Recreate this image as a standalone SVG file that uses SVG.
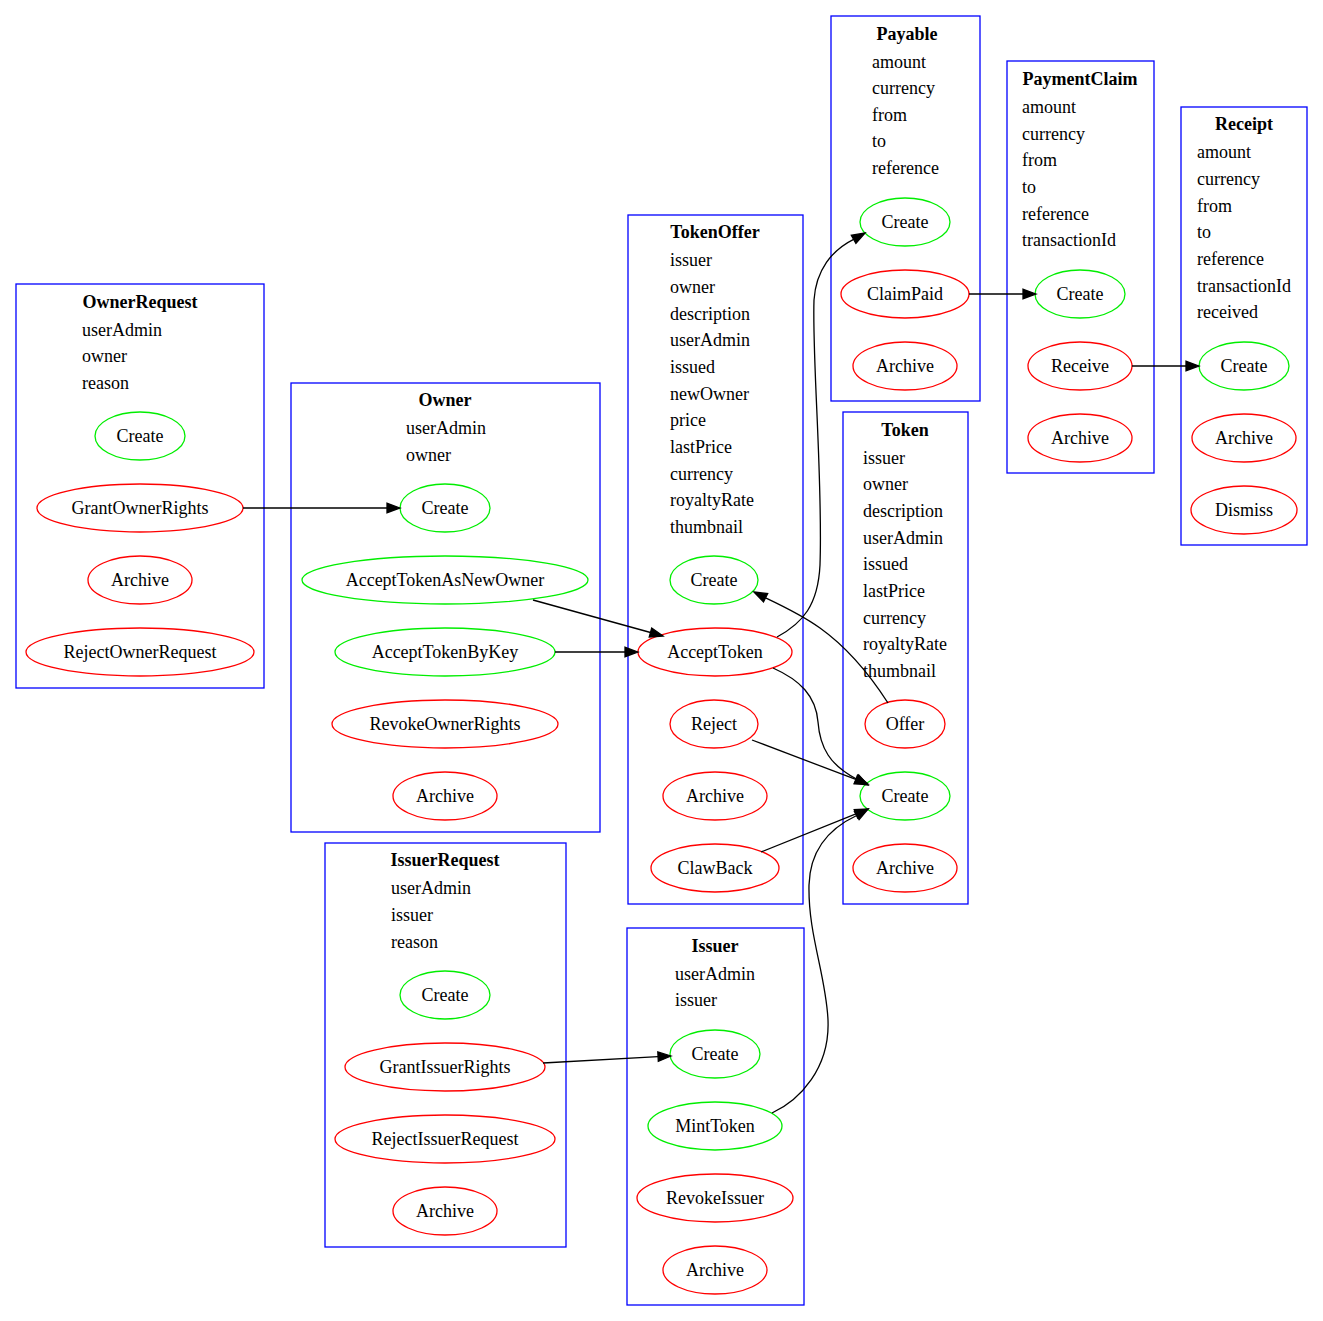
<svg xmlns="http://www.w3.org/2000/svg" width="1323" height="1321" viewBox="0 0 1323 1321">
<style>
  text { font-family: "Liberation Serif", "Times New Roman", serif; font-size: 18px; fill: #000; }
  .title { font-weight: bold; text-anchor: middle; }
  .field { text-anchor: start; }
  .lbl { text-anchor: middle; }
  .box { fill: none; stroke: #0000ff; stroke-width: 1.3; }
  .ok { fill: none; stroke: #00ee00; stroke-width: 1.3; }
  .bad { fill: none; stroke: #ff0000; stroke-width: 1.3; }
  .edge path { fill: none; stroke: #000; stroke-width: 1.3; }
  .edge polygon { fill: #000; stroke: #000; stroke-width: 1.3; }
</style>
<rect width="1323" height="1321" fill="#fff"/>

<!-- OwnerRequest -->
<g id="OwnerRequest">
  <rect class="box" x="16" y="284" width="248" height="404"/>
  <text class="title" x="140" y="308">OwnerRequest</text>
  <text class="field" x="82" y="336">userAdmin</text>
  <text class="field" x="82" y="362">owner</text>
  <text class="field" x="82" y="389">reason</text>
  <g id="OwnerRequest_Create"><ellipse class="ok" cx="140" cy="436" rx="45" ry="24"/><text class="lbl" x="140" y="442">Create</text></g>
  <g id="OwnerRequest_GrantOwnerRights"><ellipse class="bad" cx="140" cy="508" rx="103" ry="24"/><text class="lbl" x="140" y="514">GrantOwnerRights</text></g>
  <g id="OwnerRequest_Archive"><ellipse class="bad" cx="140" cy="580" rx="52" ry="24"/><text class="lbl" x="140" y="586">Archive</text></g>
  <g id="OwnerRequest_RejectOwnerRequest"><ellipse class="bad" cx="140" cy="652" rx="114" ry="24"/><text class="lbl" x="140" y="658">RejectOwnerRequest</text></g>
</g>

<!-- Owner -->
<g id="Owner">
  <rect class="box" x="291" y="383" width="309" height="449"/>
  <text class="title" x="445" y="406">Owner</text>
  <text class="field" x="406" y="434">userAdmin</text>
  <text class="field" x="406" y="461">owner</text>
  <g id="Owner_Create"><ellipse class="ok" cx="445" cy="508" rx="45" ry="24"/><text class="lbl" x="445" y="514">Create</text></g>
  <g id="Owner_AcceptTokenAsNewOwner"><ellipse class="ok" cx="445" cy="580" rx="143" ry="24"/><text class="lbl" x="445" y="586">AcceptTokenAsNewOwner</text></g>
  <g id="Owner_AcceptTokenByKey"><ellipse class="ok" cx="445" cy="652" rx="110" ry="24"/><text class="lbl" x="445" y="658">AcceptTokenByKey</text></g>
  <g id="Owner_RevokeOwnerRights"><ellipse class="bad" cx="445" cy="724" rx="113" ry="24"/><text class="lbl" x="445" y="730">RevokeOwnerRights</text></g>
  <g id="Owner_Archive"><ellipse class="bad" cx="445" cy="796" rx="52" ry="24"/><text class="lbl" x="445" y="802">Archive</text></g>
</g>

<!-- IssuerRequest -->
<g id="IssuerRequest">
  <rect class="box" x="325" y="843" width="241" height="404"/>
  <text class="title" x="445" y="866">IssuerRequest</text>
  <text class="field" x="391" y="894">userAdmin</text>
  <text class="field" x="391" y="921">issuer</text>
  <text class="field" x="391" y="948">reason</text>
  <g id="IssuerRequest_Create"><ellipse class="ok" cx="445" cy="995" rx="45" ry="24"/><text class="lbl" x="445" y="1001">Create</text></g>
  <g id="IssuerRequest_GrantIssuerRights"><ellipse class="bad" cx="445" cy="1067" rx="100" ry="24"/><text class="lbl" x="445" y="1073">GrantIssuerRights</text></g>
  <g id="IssuerRequest_RejectIssuerRequest"><ellipse class="bad" cx="445" cy="1139" rx="110" ry="24"/><text class="lbl" x="445" y="1145">RejectIssuerRequest</text></g>
  <g id="IssuerRequest_Archive"><ellipse class="bad" cx="445" cy="1211" rx="52" ry="24"/><text class="lbl" x="445" y="1217">Archive</text></g>
</g>

<!-- TokenOffer -->
<g id="TokenOffer">
  <rect class="box" x="628" y="215" width="175" height="689"/>
  <text class="title" x="715" y="238">TokenOffer</text>
  <text class="field" x="670" y="266">issuer</text>
  <text class="field" x="670" y="293">owner</text>
  <text class="field" x="670" y="320">description</text>
  <text class="field" x="670" y="346">userAdmin</text>
  <text class="field" x="670" y="373">issued</text>
  <text class="field" x="670" y="400">newOwner</text>
  <text class="field" x="670" y="426">price</text>
  <text class="field" x="670" y="453">lastPrice</text>
  <text class="field" x="670" y="480">currency</text>
  <text class="field" x="670" y="506">royaltyRate</text>
  <text class="field" x="670" y="533">thumbnail</text>
  <g id="TokenOffer_Create"><ellipse class="ok" cx="714" cy="580" rx="44" ry="24"/><text class="lbl" x="714" y="586">Create</text></g>
  <g id="TokenOffer_AcceptToken"><ellipse class="bad" cx="715" cy="652" rx="77" ry="24"/><text class="lbl" x="715" y="658">AcceptToken</text></g>
  <g id="TokenOffer_Reject"><ellipse class="bad" cx="714" cy="724" rx="44" ry="24"/><text class="lbl" x="714" y="730">Reject</text></g>
  <g id="TokenOffer_Archive"><ellipse class="bad" cx="715" cy="796" rx="52" ry="24"/><text class="lbl" x="715" y="802">Archive</text></g>
  <g id="TokenOffer_ClawBack"><ellipse class="bad" cx="715" cy="868" rx="64" ry="24"/><text class="lbl" x="715" y="874">ClawBack</text></g>
</g>

<!-- Issuer -->
<g id="Issuer">
  <rect class="box" x="627" y="928" width="177" height="377"/>
  <text class="title" x="715" y="952">Issuer</text>
  <text class="field" x="675" y="980">userAdmin</text>
  <text class="field" x="675" y="1006">issuer</text>
  <g id="Issuer_Create"><ellipse class="ok" cx="715" cy="1054" rx="45" ry="24"/><text class="lbl" x="715" y="1060">Create</text></g>
  <g id="Issuer_MintToken"><ellipse class="ok" cx="715" cy="1126" rx="67" ry="24"/><text class="lbl" x="715" y="1132">MintToken</text></g>
  <g id="Issuer_RevokeIssuer"><ellipse class="bad" cx="715" cy="1198" rx="78" ry="24"/><text class="lbl" x="715" y="1204">RevokeIssuer</text></g>
  <g id="Issuer_Archive"><ellipse class="bad" cx="715" cy="1270" rx="52" ry="24"/><text class="lbl" x="715" y="1276">Archive</text></g>
</g>

<!-- Payable -->
<g id="Payable">
  <rect class="box" x="831" y="16" width="149" height="385"/>
  <text class="title" x="907" y="40">Payable</text>
  <text class="field" x="872" y="68">amount</text>
  <text class="field" x="872" y="94">currency</text>
  <text class="field" x="872" y="121">from</text>
  <text class="field" x="872" y="147">to</text>
  <text class="field" x="872" y="174">reference</text>
  <g id="Payable_Create"><ellipse class="ok" cx="905" cy="222" rx="45" ry="24"/><text class="lbl" x="905" y="228">Create</text></g>
  <g id="Payable_ClaimPaid"><ellipse class="bad" cx="905" cy="294" rx="64" ry="24"/><text class="lbl" x="905" y="300">ClaimPaid</text></g>
  <g id="Payable_Archive"><ellipse class="bad" cx="905" cy="366" rx="52" ry="24"/><text class="lbl" x="905" y="372">Archive</text></g>
</g>

<!-- Token -->
<g id="Token">
  <rect class="box" x="843" y="412" width="125" height="492"/>
  <text class="title" x="905" y="436">Token</text>
  <text class="field" x="863" y="464">issuer</text>
  <text class="field" x="863" y="490">owner</text>
  <text class="field" x="863" y="517">description</text>
  <text class="field" x="863" y="544">userAdmin</text>
  <text class="field" x="863" y="570">issued</text>
  <text class="field" x="863" y="597">lastPrice</text>
  <text class="field" x="863" y="624">currency</text>
  <text class="field" x="863" y="650">royaltyRate</text>
  <text class="field" x="863" y="677">thumbnail</text>
  <g id="Token_Offer"><ellipse class="bad" cx="905" cy="724" rx="40" ry="24"/><text class="lbl" x="905" y="730">Offer</text></g>
  <g id="Token_Create"><ellipse class="ok" cx="905" cy="796" rx="45" ry="24"/><text class="lbl" x="905" y="802">Create</text></g>
  <g id="Token_Archive"><ellipse class="bad" cx="905" cy="868" rx="52" ry="24"/><text class="lbl" x="905" y="874">Archive</text></g>
</g>

<!-- PaymentClaim -->
<g id="PaymentClaim">
  <rect class="box" x="1007" y="61" width="147" height="412"/>
  <text class="title" x="1080" y="85">PaymentClaim</text>
  <text class="field" x="1022" y="113">amount</text>
  <text class="field" x="1022" y="140">currency</text>
  <text class="field" x="1022" y="166">from</text>
  <text class="field" x="1022" y="193">to</text>
  <text class="field" x="1022" y="220">reference</text>
  <text class="field" x="1022" y="246">transactionId</text>
  <g id="PaymentClaim_Create"><ellipse class="ok" cx="1080" cy="294" rx="45" ry="24"/><text class="lbl" x="1080" y="300">Create</text></g>
  <g id="PaymentClaim_Receive"><ellipse class="bad" cx="1080" cy="366" rx="52" ry="24"/><text class="lbl" x="1080" y="372">Receive</text></g>
  <g id="PaymentClaim_Archive"><ellipse class="bad" cx="1080" cy="438" rx="52" ry="24"/><text class="lbl" x="1080" y="444">Archive</text></g>
</g>

<!-- Receipt -->
<g id="Receipt">
  <rect class="box" x="1181" y="107" width="126" height="438"/>
  <text class="title" x="1244" y="130">Receipt</text>
  <text class="field" x="1197" y="158">amount</text>
  <text class="field" x="1197" y="185">currency</text>
  <text class="field" x="1197" y="212">from</text>
  <text class="field" x="1197" y="238">to</text>
  <text class="field" x="1197" y="265">reference</text>
  <text class="field" x="1197" y="292">transactionId</text>
  <text class="field" x="1197" y="318">received</text>
  <g id="Receipt_Create"><ellipse class="ok" cx="1244" cy="366" rx="45" ry="24"/><text class="lbl" x="1244" y="372">Create</text></g>
  <g id="Receipt_Archive"><ellipse class="bad" cx="1244" cy="438" rx="52" ry="24"/><text class="lbl" x="1244" y="444">Archive</text></g>
  <g id="Receipt_Dismiss"><ellipse class="bad" cx="1244" cy="510" rx="53" ry="24"/><text class="lbl" x="1244" y="516">Dismiss</text></g>
</g>

<!-- connectors -->
<g id="edges" class="edge">
  <!-- GrantOwnerRights -> Owner.Create -->
  <path d="M243,508 L387,508"/>
  <polygon points="400,508 387,503.3 387,512.7"/>
  <!-- AcceptTokenAsNewOwner -> TokenOffer.AcceptToken -->
  <path d="M533,600 L650.5,632.5"/>
  <polygon points="663,636 649.2,637 651.7,628"/>
  <!-- AcceptTokenByKey -> TokenOffer.AcceptToken -->
  <path d="M555,652 L625,652"/>
  <polygon points="638,652 625,647.3 625,656.7"/>
  <!-- AcceptToken -> Payable.Create -->
  <path d="M777,637 C803,623 818,605 820,565 C823,480 812,360 814,300 C816,270 832,250 853.6,239.3"/>
  <polygon points="865,233 855.9,243.4 851.3,235.2"/>
  <!-- AcceptToken -> Token.Create -->
  <path d="M773,668 C800,680 816,696 818,722 C820,748 830,765 856.5,779"/>
  <polygon points="868,785 854.3,783.2 858.7,774.8"/>
  <!-- Reject -> Token.Create -->
  <path d="M752,740 L855.8,779.4"/>
  <polygon points="868,784 854.2,783.8 857.5,775"/>
  <!-- ClawBack -> Token.Create -->
  <path d="M761,852 L855.9,813.9"/>
  <polygon points="868,809 857.7,818.2 854.2,809.5"/>
  <!-- MintToken -> Token.Create -->
  <path d="M772,1113 C800,1100 830,1068 828,1020 C826,975 808,935 809,885 C810,850 830,828 856.7,815.5"/>
  <polygon points="868,809 859.1,819.6 854.4,811.5"/>
  <!-- Token.Offer -> TokenOffer.Create -->
  <path d="M888,703 C870,675 848,648 820,628 C805,617 785,607 765.6,597.8"/>
  <polygon points="754,592 767.7,593.6 763.5,602"/>
  <!-- ClaimPaid -> PaymentClaim.Create -->
  <path d="M969,294 L1023,294"/>
  <polygon points="1036,294 1023,289.3 1023,298.7"/>
  <!-- GrantIssuerRights -> Issuer.Create -->
  <path d="M543,1063 L658,1056.7"/>
  <polygon points="671,1056 658.3,1061.4 657.8,1052"/>
  <!-- Receive -> Receipt.Create -->
  <path d="M1132,366 L1186,366"/>
  <polygon points="1199,366 1186,361.3 1186,370.7"/>
</g>
</svg>
